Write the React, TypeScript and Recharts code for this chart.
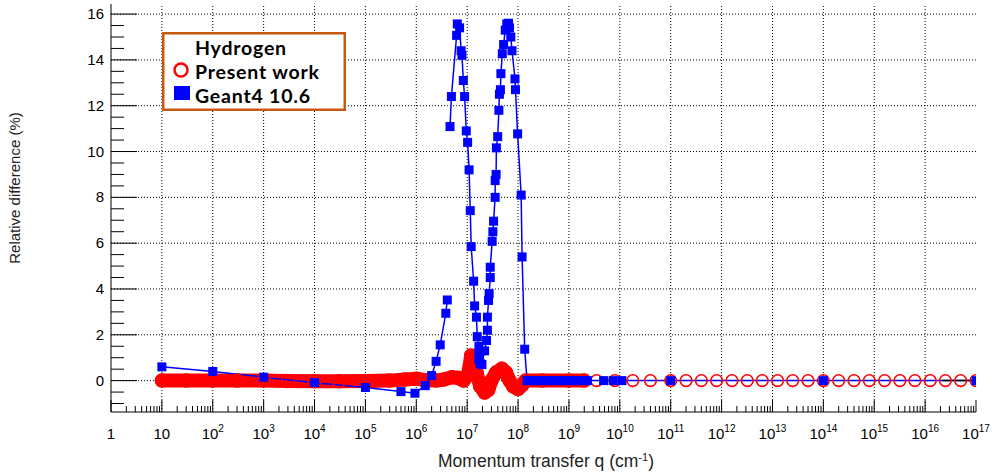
import { Legend, Line, LineChart, ReferenceLine, XAxis, YAxis } from "recharts";

// Geant4 10.6 (blue squares); null breaks the line where the reference has a gap
const GEANT_Q = [
  10, 100, 1e3, 1e4, 1e5, 5e5, 9.4e5, 1.5e6, 2e6, 2.45e6, 2.95e6, 3.8e6, 4.07e6,
  4.3e6,
  4.6e6, 4.9e6, 6.2e6, 6.4e6, 7.1e6, 7.6e6, 7.9e6, 8.4e6, 8.9e6, 9.6e6, 1.02e7,
  1.09e7, 1.15e7, 1.2e7, 1.34e7, 1.4e7, 1.52e7, 1.58e7, 1.7e7, 1.7e7, 1.7e7,
  1.82e7, 1.95e7,
  2.2e7, 2.4e7, 2.5e7, 2.5e7, 2.63e7, 2.7e7, 2.84e7, 2.84e7, 3.1e7, 3.2e7, 3.3e7,
  3.55e7, 3.55e7, 3.7e7, 3.75e7, 3.98e7, 4.2e7, 4.3e7, 4.5e7, 4.6e7, 4.9e7, 5.2e7,
  5.6e7, 6.0e7, 6.5e7, 6.8e7, 7.2e7, 7.6e7, 8.7e7, 8.9e7, 9.8e7, 1.15e8, 1.2e8,
  1.35e8,
  1.5e8, 1.8e8, 2.2e8, 2.7e8, 3.3e8, 4e8, 5e8, 6e8, 7.5e8, 9e8, 1.1e9, 1.35e9,
  1.65e9, 2e9, 2.3e9, 4.8e9, 7.4e9, 1.1e10, 1e11, 1e14, 1e17,
];
const GEANT_DIFF = [
  0.6, 0.4, 0.15, -0.09, -0.3, -0.48, -0.55, -0.22, 0.22, 0.84, 1.56, 2.94, 3.52,
  null,
  11.09, 12.4, 15.07, 15.57, 15.4, 14.4, 14.2, 13.1, 12.4, 10.9, 10.4,
  9.2, 7.42, 5.85, 4.34, 3.26, 2.77, 1.92, 1.5, 1.2, 0.9,
  0.74, 0.7,
  1.3, 1.75, 2.2, 2.77, 3.5, 3.8, 4.5, 4.95, 6.08, 6.5, 6.96,
  8.0, 8.73, 9.0, 10.16, 10.65, 11.8, 12.5, 12.7, 13.4, 14.27, 14.67,
  15.3, 15.57, 15.6, 15.4, 15.0, 14.4, 13.17, 12.7, 10.77, 8.1, 5.4,
  1.37,
  0, 0, 0, 0, 0, 0, 0, 0, 0, 0, 0, 0,
  0, 0, 0, 0, 0, 0, 0, 0, 0,
];

// Present work (red open circles), densely sampled part
const PRESENT_DENSE_Q = [
  10, 30, 100, 300, 1e3, 3e3, 1e4, 3e4, 1e5, 3e5, 6e5, 1e6, 1.6e6, 2.5e6, 3.5e6,
  5e6, 6.5e6, 8.5e6, 1.05e7, 1.2e7, 1.35e7, 1.55e7, 1.8e7, 2.2e7, 2.6e7, 3.0e7,
  3.7e7, 4.8e7, 5.8e7, 6.8e7, 8.0e7, 1.0e8, 1.2e8, 1.4e8, 3e8, 1e9, 2e9,
];
const PRESENT_DENSE_DIFF = [
  0, 0, 0, 0, 0, -0.02, -0.03, -0.03, -0.02, 0, 0.05, 0.08, 0.02, 0, 0.05,
  0.15, 0.12, 0, 0.3, 1.1, 0.9, 0.3, -0.25, -0.52, -0.4, 0,
  0.35, 0.52, 0.35, 0, -0.25, -0.37, -0.2, 0, 0, 0, 0,
];

// Present work, sparse part
const PRESENT_SPARSE_Q = [
  3.5e9, 8e9, 1.8e10, 4e10, 1e11, 2e11, 4e11, 8e11, 1.6e12, 3.2e12, 6.3e12,
  1.26e13, 2.5e13, 5e13, 1e14, 2e14, 4e14, 8e14, 1.6e15, 3.2e15, 6.3e15,
  1.26e16, 2.5e16, 5e16, 1e17,
];
const PRESENT_SPARSE_DIFF = [
  0, 0, 0, 0, 0, 0, 0, 0, 0, 0, 0, 0, 0, 0, 0, 0, 0, 0, 0, 0, 0, 0, 0, 0, 0,
];

// short black segment at the right end
const TAIL_Q = [2.2e16, 1e17];
const TAIL_DIFF = [0, 0];

const X_DECADES = [
  1, 10, 1e2, 1e3, 1e4, 1e5, 1e6, 1e7, 1e8, 1e9, 1e10, 1e11, 1e12, 1e13, 1e14,
  1e15, 1e16, 1e17,
];
const Y_MAJOR = [0, 2, 4, 6, 8, 10, 12, 14, 16];

const X_TICKS = X_DECADES.flatMap((d, i) =>
  i < X_DECADES.length - 1 ? [2, 3, 4, 5, 6, 7, 8, 9].map((m) => m * d).concat(d) : [d],
).sort((a, b) => a - b);
const Y_TICKS = Array.from({ length: 35 }, (_, i) => -1 + i * 0.5);

const X_DOMAIN: [number, number] = [1, 1e17];
const Y_DOMAIN: [number, number] = [-1.37, 16.44];

const FONT = '"Liberation Sans", Arial, Helvetica, sans-serif';
const RED = "#ff0000";
const BLUE = "#0000ff";

const rows = (qs: number[], ds: (number | null)[]) =>
  qs.map((q, i) => ({ q, diff: ds[i] }));

const geantData = rows(GEANT_Q, GEANT_DIFF);
const presentDense = rows(PRESENT_DENSE_Q, PRESENT_DENSE_DIFF);
const presentSparse = rows(PRESENT_SPARSE_Q, PRESENT_SPARSE_DIFF);
const tailData = rows(TAIL_Q, TAIL_DIFF);

function BottomTick({ x, y, payload }: any) {
  const v = payload.value as number;
  const major = X_DECADES.includes(v);
  const exp = Math.round(Math.log10(v));
  return (
    <g>
      <line x1={x} y1={y} x2={x} y2={y - (major ? 12 : 6)} stroke="#000" />
      {major && (
        <text x={x} y={y + 27} textAnchor="middle" fontFamily={FONT} fontSize={15} fill="#000">
          {exp === 0 ? "1" : exp === 1 ? "10" : (
            <>
              10<tspan dy={-7} fontSize={10}>{exp}</tspan>
            </>
          )}
        </text>
      )}
    </g>
  );
}

function TopTick({ x, y, payload }: any) {
  const major = X_DECADES.includes(payload.value);
  return <line x1={x} y1={y} x2={x} y2={y + (major ? 12 : 6)} stroke="#000" />;
}

function LeftTick({ x, y, payload }: any) {
  const v = payload.value as number;
  const major = Y_MAJOR.includes(v);
  return (
    <g>
      <line x1={x} y1={y} x2={x + (major ? 26 : 13)} y2={y} stroke="#000" />
      {major && (
        <text x={x - 7} y={y + 5} textAnchor="end" fontFamily={FONT} fontSize={15} fill="#000">
          {v}
        </text>
      )}
    </g>
  );
}

function RightTick({ x, y, payload }: any) {
  const major = Y_MAJOR.includes(payload.value);
  return <line x1={x} y1={y} x2={x - (major ? 26 : 13)} y2={y} stroke="#000" />;
}

function SquareDot(props: any) {
  const { cx, cy, index } = props;
  if (cx == null || cy == null) return <g key={`s${index}`} />;
  return <rect key={`s${index}`} x={cx - 4.5} y={cy - 4.5} width={9} height={9} fill={BLUE} />;
}

function LegendBox() {
  const text = {
    fontFamily: "Lato, sans-serif",
    fontWeight: 700,
    fontSize: 19.5,
    letterSpacing: 0.8,
    fill: "#000",
  };
  return (
    <svg width={186} height={81}>
      <rect x={1.25} y={1.25} width={181.5} height={76.5} fill="#fff" stroke="#c55a11" strokeWidth={2.5} />
      <text x={33} y={22.5} {...text}>Hydrogen</text>
      <circle cx={19} cy={38} r={6.5} fill="none" stroke={RED} strokeWidth={2.5} />
      <text x={33} y={46.5} {...text}>Present work</text>
      <rect x={12} y={54} width={16} height={14} fill={BLUE} />
      <text x={33} y={70.5} {...text}>Geant4 10.6</text>
    </svg>
  );
}

export default function App() {
  return (
    <div style={{ position: "absolute", left: 0, top: 0, width: 992, height: 474, background: "#fff" }}>
      <LineChart width={992} height={474} margin={{ top: 4, right: 16, bottom: 0, left: 0 }}>
        <XAxis
          dataKey="q"
          type="number"
          scale="log"
          domain={X_DOMAIN}
          allowDataOverflow
          ticks={X_TICKS}
          interval={0}
          tickSize={0}
          tickMargin={0}
          tickLine={false}
          height={62}
          axisLine={{ stroke: "#000" }}
          tick={(p: any) => <BottomTick {...p} />}
        />
        <XAxis
          xAxisId="top"
          orientation="top"
          dataKey="q"
          type="number"
          scale="log"
          domain={X_DOMAIN}
          allowDataOverflow
          ticks={X_TICKS}
          interval={0}
          tickSize={0}
          tickMargin={0}
          tickLine={false}
          height={0}
          axisLine={{ stroke: "#000" }}
          tick={(p: any) => <TopTick {...p} />}
        />
        <YAxis
          type="number"
          domain={Y_DOMAIN}
          allowDataOverflow
          ticks={Y_TICKS}
          interval={0}
          tickSize={0}
          tickMargin={0}
          tickLine={false}
          width={111}
          axisLine={{ stroke: "#000" }}
          tick={(p: any) => <LeftTick {...p} />}
        />
        <YAxis
          yAxisId="right"
          orientation="right"
          type="number"
          domain={Y_DOMAIN}
          allowDataOverflow
          ticks={Y_TICKS}
          interval={0}
          tickSize={0}
          tickMargin={0}
          tickLine={false}
          width={0}
          axisLine={{ stroke: "#000" }}
          tick={(p: any) => <RightTick {...p} />}
        />
        {X_DECADES.slice(1, -1).map((d) => (
          <ReferenceLine key={`vx${d}`} x={d} stroke="#000" strokeDasharray="1 2" />
        ))}
        {Y_MAJOR.map((v) => (
          <ReferenceLine key={`hy${v}`} y={v} stroke="#000" strokeDasharray="1 2" />
        ))}
        <Line
          data={presentDense}
          dataKey="diff"
          type="linear"
          stroke={RED}
          strokeWidth={14}
          strokeLinejoin="round"
          strokeLinecap="round"
          dot={{ r: 6.5, fill: "none", stroke: RED, strokeWidth: 1.5 }}
          isAnimationActive={false}
        />
        <Line
          data={presentSparse}
          dataKey="diff"
          type="linear"
          stroke="none"
          dot={{ r: 5.8, fill: "none", stroke: RED, strokeWidth: 1.6 }}
          isAnimationActive={false}
        />
        <Line
          data={geantData}
          dataKey="diff"
          type="linear"
          stroke={BLUE}
          strokeWidth={1.5}
          dot={(p: any) => <SquareDot {...p} />}
          isAnimationActive={false}
        />
        <Line data={tailData} dataKey="diff" type="linear" stroke="#000" strokeWidth={1.5} dot={false} isAnimationActive={false} />
        <Legend
          layout="vertical"
          align="center"
          verticalAlign="middle"
          wrapperStyle={{ left: 162, top: 32, width: 186, height: 81 }}
          content={() => <LegendBox />}
        />
        <text
          x={14}
          y={188}
          transform="rotate(-90 14 188)"
          textAnchor="middle"
          dominantBaseline="central"
          fontFamily={FONT}
          fontSize={15}
          fill="#222"
        >
          Relative difference (%)
        </text>
        <text x={546} y={467} textAnchor="middle" fontFamily={FONT} fontSize={17.5} fill="#222">
          Momentum transfer q (cm<tspan dy={-6} fontSize={11}>-1</tspan>
          <tspan dy={6}>)</tspan>
        </text>
      </LineChart>
    </div>
  );
}
